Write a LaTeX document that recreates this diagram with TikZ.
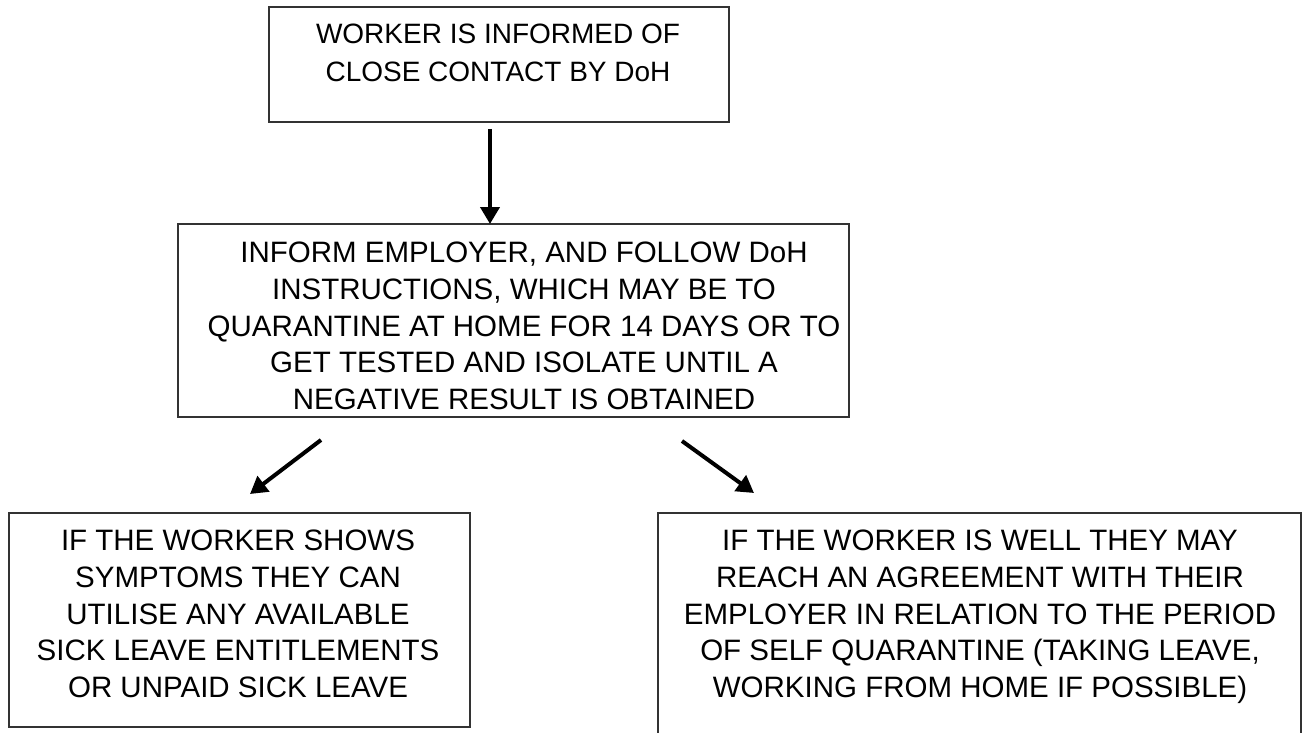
\documentclass[tikz,border=0pt]{standalone}
\usepackage{fontspec}
\setmainfont{Liberation Sans}
\usetikzlibrary{arrows.meta}
\begin{document}
\begin{tikzpicture}[x=1pt,y=-1pt,
  box/.style={draw=black!80,line width=1.3pt,inner sep=0pt,outer sep=0pt},
  txt/.style={inner sep=0pt,outer sep=0pt,align=center,anchor=north,text=black},
  fA/.style={font=\fontsize{28}{38}\selectfont},
  fB/.style={font=\fontsize{29.5}{36.7}\selectfont},
  arr/.style={line width=4pt,-{Triangle[length=17pt,width=19pt]}}]
\clip (0,0) rectangle (1311,733);
\fill[white] (0,0) rectangle (1311,733);
% boxes
\node[box,minimum width=460pt,minimum height=115pt] (top) at (499,64.5) {};
\node[box,minimum width=671pt,minimum height=193pt] (mid) at (513.5,320.5) {};
\node[box,minimum width=461pt,minimum height=214pt] (bl) at (239.5,620) {};
\node[box,minimum width=643pt,minimum height=250pt] (br) at (979.5,638) {};
% texts
\node[txt,fA] (toptxt) at (498,24) {WORKER IS INFORMED OF\\CLOSE CONTACT BY DoH};
\node[txt,fB] (midtxt) at (524,242) {INFORM EMPLOYER, AND FOLLOW DoH\\INSTRUCTIONS, WHICH MAY BE TO\\QUARANTINE AT HOME FOR 14 DAYS OR TO\\GET TESTED AND ISOLATE UNTIL A\\NEGATIVE RESULT IS OBTAINED};
\node[txt,fB] (bltxt) at (238,530) {IF THE WORKER SHOWS\\SYMPTOMS THEY CAN\\UTILISE ANY AVAILABLE\\SICK LEAVE ENTITLEMENTS\\OR UNPAID SICK LEAVE};
\node[txt,fB] (brtxt) at (980,530) {IF THE WORKER IS WELL THEY MAY\\REACH AN AGREEMENT WITH THEIR\\EMPLOYER IN RELATION TO THE PERIOD\\OF SELF QUARANTINE (TAKING LEAVE,\\WORKING FROM HOME IF POSSIBLE)};
% arrows
\draw[arr] ([xshift=-9pt,yshift=-7pt]top.south) -- ([xshift=-23.5pt]mid.north);
\draw[arr] ([xshift=-192.5pt,yshift=-23pt]mid.south) -- ([xshift=10.5pt,yshift=19pt]bl.north);
\draw[arr] ([xshift=168.5pt,yshift=-24pt]mid.south) -- ([xshift=-225.5pt,yshift=20pt]br.north);
\end{tikzpicture}
\end{document}
